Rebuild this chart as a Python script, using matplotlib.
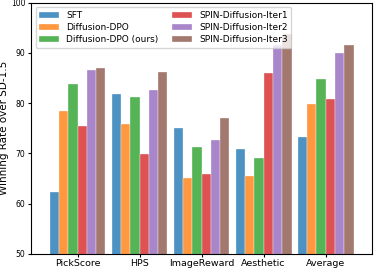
import matplotlib
matplotlib.use('Agg')
import matplotlib.pyplot as plt
import numpy as np

categories = ['PickScore', 'HPS', 'ImageReward', 'Aesthetic', 'Average']
methods = ['SFT', 'Diffusion-DPO', 'Diffusion-DPO (ours)',
           'SPIN-Diffusion-Iter1', 'SPIN-Diffusion-Iter2', 'SPIN-Diffusion-Iter3']
sft = [62.4, 81.9, 75.0, 70.8, 73.2]
dpo = [78.4, 75.8, 65.0, 65.4, 79.8]
dpo_ours = [83.8, 81.2, 71.2, 69.0, 84.8]
iter1 = [75.5, 69.9, 65.8, 86.0, 80.8]
iter2 = [86.6, 82.6, 72.6, 91.5, 90.0]
iter3 = [87.0, 86.2, 77.0, 93.8, 91.6]
colors = ['tab:blue', 'tab:orange', 'tab:green', 'tab:red', 'tab:purple', 'tab:brown']

series = [sft, dpo, dpo_ours, iter1, iter2, iter3]

fig, ax = plt.subplots(figsize=(3.74, 2.7), dpi=100)
x = np.arange(len(categories))
w = 0.15
for i, (vals, name, c) in enumerate(zip(series, methods, colors)):
    ax.bar(x + (i - 2.5) * w, vals, w, color=c, alpha=0.8, label=name,
           edgecolor='white', linewidth=0.3)

ax.set_ylim(50, 100)
ax.set_xlim(-0.75, 4.75)
ax.set_xticks(x)
ax.set_xticklabels(categories, fontsize=6.8)
ax.set_yticks([50, 60, 70, 80, 90, 100])
ax.tick_params(axis='y', labelsize=5.5, length=2, pad=2)
ax.tick_params(axis='x', length=2, pad=1.5)
ax.set_ylabel('Winning Rate over SD-1.5', fontsize=7.5, labelpad=1.5)
ax.legend(loc='upper left', ncol=2, fontsize=6.5, handlelength=2.2,
          columnspacing=1.5, labelspacing=0.35)

plt.subplots_adjust(left=0.083, right=0.995, top=0.99, bottom=0.06)
plt.savefig('out.png', dpi=100)
